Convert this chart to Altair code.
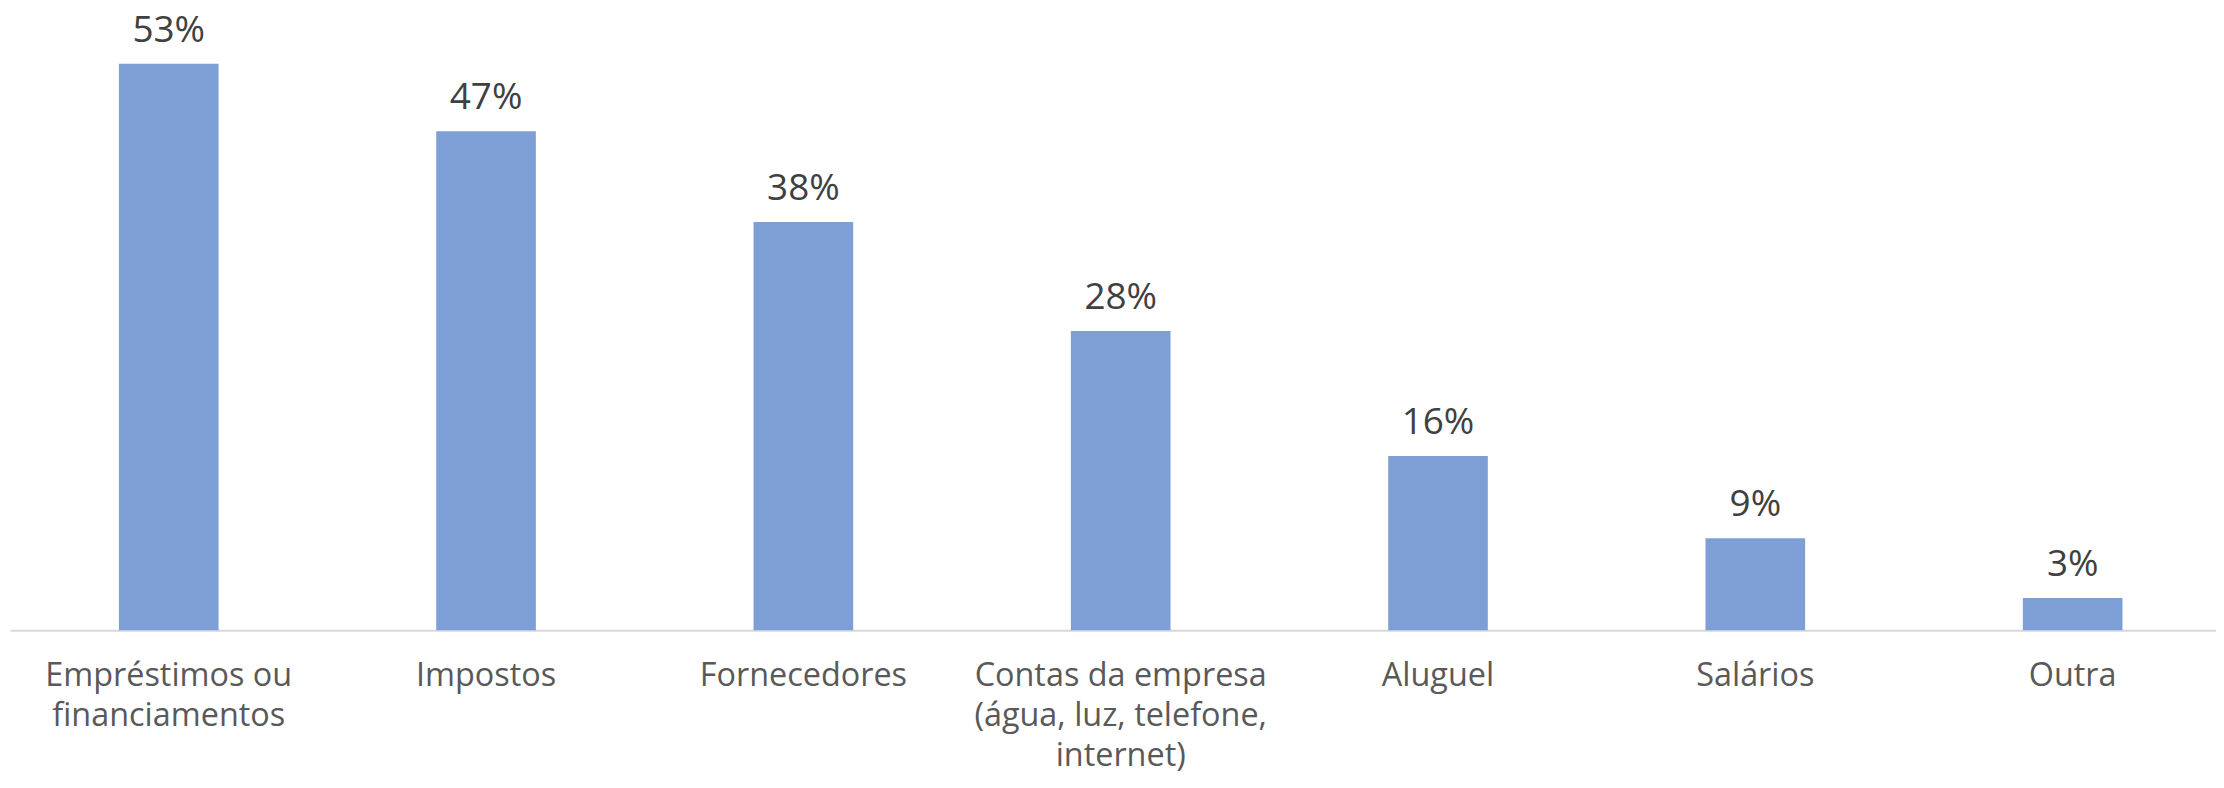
import altair as alt
import pandas as pd

categories = [
    "Empréstimos ou\nfinanciamentos",
    "Impostos",
    "Fornecedores",
    "Contas da empresa\n(água, luz, telefone,\ninternet)",
    "Aluguel",
    "Salários",
    "Outra",
]
values = [53.0, 46.7, 38.2, 28.0, 16.3, 8.6, 3.0]
labels = ["53%", "47%", "38%", "28%", "16%", "9%", "3%"]

df = pd.DataFrame({"categoria": categories, "valor": values, "rotulo": labels})

x = alt.X(
    "categoria:N",
    sort=categories,
    title=None,
    scale=alt.Scale(paddingInner=0.686, paddingOuter=0.319, align=0.538),
    axis=alt.Axis(
        labelAngle=0,
        labelExpr="split(datum.label, '\\n')",
        ticks=False,
        grid=False,
        domainColor="#D9D9D9",
        domainWidth=2,
        labelFont="Open Sans",
        labelFontSize=32.5,
        labelColor="#595959",
        labelLineHeight=40,
        labelPadding=30,
        labelBaseline="top",
        labelLimit=0,
    ),
)
y = alt.Y(
    "valor:Q",
    scale=alt.Scale(domain=[0, 58.1], nice=False, zero=True),
    axis=None,
)

base = alt.Chart(df).encode(x=x, y=y)
bars = base.mark_bar(color="#7E9ED6")
text = base.mark_text(
    dy=-22,
    baseline="alphabetic",
    font="Open Sans",
    fontSize=37,
    color="#404040",
).encode(text="rotulo:N")

chart = (
    (bars + text)
    .properties(
        width=2214,
        height=623,
        padding={"left": 2, "top": 0, "right": 0, "bottom": 143},
        autosize=alt.AutoSizeParams(type="none"),
        background="white",
    )
    .configure_view(stroke=None)
)

chart.save("out.html", embed_options={"renderer": "svg", "actions": False})
